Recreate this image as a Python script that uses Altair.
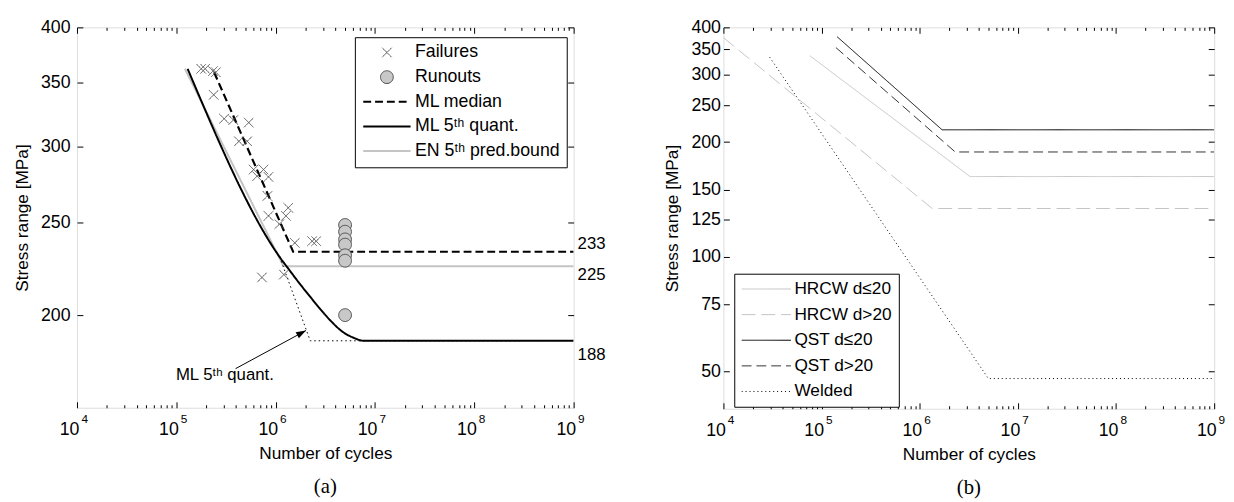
import altair as alt
import pandas as pd

FONT = "Liberation Sans"
SERIF = "Liberation Serif"

# ---------------- panel (a) data ----------------
SER_A = ["Failures", "Runouts", "ML median", "ML 5ᵗʰ quant.", "EN 5ᵗʰ pred.bound"]

FAIL_N = [1.78e5, 1.95e5, 2.34e5, 2.5e5, 2.38e5, 3.03e5, 3.75e5, 5.36e5, 4.27e5, 5.17e5,
          6.0e5, 7.55e5, 6.5e5, 8.47e5, 8.27e5, 8.47e5, 1.09e6, 1.34e6, 1.27e6, 1.56e6,
          2.33e6, 2.56e6, 7.28e5, 1.21e6]
FAIL_S = [362, 362, 360, 359, 340, 321, 320, 318, 304, 304,
          284, 284, 279.5, 279, 266.5, 254, 249, 259, 254, 238,
          239, 239, 219, 220.5]
RUN_N = [5.0e6, 5.0e6, 5.0e6, 5.0e6, 5.0e6, 5.0e6, 5.0e6]
RUN_S = [248.5, 244.5, 240, 237, 231, 228, 200]

MED_N = [2.4e5, 1.5e6, 1.0e9]
MED_S = [359, 233, 233]
Q5_N = [1.3e5, 1.15e6, 1.35e6, 1.7e6, 2.19e6, 2.8e6, 3.58e6, 4.6e6, 6.0e6, 7.8e6, 1.0e9]
Q5_S = [362, 228.5, 223.5, 216.5, 209.5, 203, 197.3, 192.5, 189.5, 188, 188]
EN_N = [1.22e5, 1.2e6, 1.0e9]
EN_S = [362, 225, 225]
Q5BI_N = [1.1e6, 2.23e6, 3.05e8]
Q5BI_S = [230, 188, 188]

LIMIT_N = 1.0e9
LIMIT_S = [233, 225, 188]
ARROW_N = [3.95e5, 2.02e6]
ARROW_S = [175.8, 192.7]
NOTE_N = [9.9e4]
NOTE_S = [173]
NOTE_TEXT = ["ML 5ᵗʰ quant."]

# ---------------- panel (b) data ----------------
SER_B = ["HRCW d≤20", "HRCW d>20", "QST d≤20", "QST d>20", "Welded"]
HRCW1_N = [7.6e4, 3.26e6, 1.0e9]
HRCW1_S = [337, 162.5, 162.5]
HRCW2_N = [1.0e4, 1.34e6, 1.0e9]
HRCW2_S = [376, 134, 134]
QST1_N = [1.44e5, 1.69e6, 1.0e9]
QST1_S = [378, 215.5, 215.5]
QST2_N = [1.40e5, 2.3e6, 1.0e9]
QST2_S = [354, 188.5, 188.5]
WELD_N = [2.96e4, 5.0e6, 1.0e9]
WELD_S = [334, 48, 48]

# ---------------- ticks ----------------
X_MAJOR = [1e4, 1e5, 1e6, 1e7, 1e8, 1e9]
X_MINOR = [m * 10 ** e for e in range(4, 9) for m in range(2, 10)]
Y_TICKS_A = [200, 250, 300, 350, 400]
Y_TICKS_B = [50, 75, 100, 125, 150, 200, 250, 300, 350, 400]

XS = alt.Scale(type="log", domain=[1e4, 1e9])
YS_A = alt.Scale(type="log", domain=[160, 400])
YS_B = alt.Scale(type="log", domain=[40, 400])


def axis(orient, **kw):
    base = dict(orient=orient, domain=False, grid=False, labels=False, ticks=False,
                tickSize=0, labelFlush=False, labelOverlap=False, title=None,
                tickColor="black", tickWidth=1, labelColor="black", labelFont=FONT,
                titleFont=FONT, titleColor="black", titleFontWeight="normal")
    base.update(kw)
    return alt.Axis(**base)


def frame_layers(df, ys, yticks, ylabpad, ytitlepad):
    """Invisible carrier layers that only hold axes (labels + inward ticks)."""
    specs = [
        (axis("bottom", values=X_MAJOR, labels=True, labelExpr="'10'", labelAlign="right",
              labelOffset=2, labelPadding=13, labelFontSize=18,
              title="Number of cycles", titleFontSize=17.5, titlePadding=7),
         axis("left", values=yticks, labels=True, labelPadding=ylabpad, labelFontSize=18,
              title="Stress range [MPa]", titleFontSize=17.5, titlePadding=ytitlepad)),
        (axis("bottom", values=X_MAJOR, labels=True,
              labelExpr="'' + round(log(datum.value) / LN10)", labelAlign="left",
              labelOffset=4, labelPadding=6, labelFontSize=12),
         axis("left", values=yticks, ticks=True, tickSize=6, offset=-6)),
        (axis("bottom", values=X_MAJOR, ticks=True, tickSize=6, offset=-6),
         axis("right", values=yticks, ticks=True, tickSize=6, offset=-6)),
        (axis("bottom", values=X_MINOR, ticks=True, tickSize=3, offset=-3), None),
        (axis("top", values=X_MAJOR, ticks=True, tickSize=6, offset=-6), None),
        (axis("top", values=X_MINOR, ticks=True, tickSize=3, offset=-3), None),
    ]
    out = []
    for xa, ya in specs:
        out.append(alt.Chart(df).mark_point(opacity=0).encode(
            x=alt.X("N:Q", scale=XS, axis=xa),
            y=alt.Y("S:Q", scale=ys, axis=ya),
        ))
    return out


# ================= panel (a) =================
pts_a = pd.DataFrame({
    "N": FAIL_N + RUN_N,
    "S": FAIL_S + RUN_S,
    "series": [SER_A[0]] * len(FAIL_N) + [SER_A[1]] * len(RUN_N),
})
lines_a = pd.DataFrame({
    "N": MED_N + EN_N,
    "S": MED_S + EN_S,
    "series": [SER_A[2]] * len(MED_N) + [SER_A[4]] * len(EN_N),
    "ord": list(range(len(MED_N))) + list(range(len(EN_N))),
})
q5_a = pd.DataFrame({"N": Q5_N, "S": Q5_S, "series": [SER_A[3]] * len(Q5_N),
                     "ord": list(range(len(Q5_N)))})
bi_a = pd.DataFrame({"N": Q5BI_N, "S": Q5BI_S})
arrow_a = pd.DataFrame({"N": ARROW_N, "S": ARROW_S})
note_a = pd.DataFrame({"N": NOTE_N, "S": NOTE_S, "t": NOTE_TEXT})
carrier_a = pd.DataFrame({"N": FAIL_N[:1], "S": FAIL_S[:1]})

legA = alt.Legend(title=None, orient="none", legendX=282, legendY=10, padding=7,
                  rowPadding=6, clipHeight=17, symbolSize=2304, labelOffset=3,
                  labelFont=FONT, labelFontSize=18, labelColor="black", labelLimit=400,
                  fillColor="white", strokeColor="black", symbolOpacity=1)
XPATH = "M-0.2,-0.2L0.2,0.2M-0.2,0.2L0.2,-0.2"
CPATH = "M0.27,0A0.27,0.27,0,1,1,-0.27,0A0.27,0.27,0,1,1,0.27,0Z"

strokeA = alt.Stroke("series:N", scale=alt.Scale(
    domain=SER_A, range=["#4d4d4d", "#4d4d4d", "black", "black", "#c4c4c4"]), legend=legA)
dashA = alt.StrokeDash("series:N", scale=alt.Scale(
    domain=SER_A, range=[[1, 0], [1, 0], [8, 4], [1, 0], [1, 0]]), legend=legA)
widthA = alt.StrokeWidth("series:N", scale=alt.Scale(
    type="ordinal", domain=SER_A, range=[1, 1, 2.2, 2, 2]), legend=legA)
shapeA = alt.Shape("series:N", scale=alt.Scale(
    domain=SER_A, range=[XPATH, CPATH, "stroke", "stroke", "stroke"]), legend=legA)
fillA = alt.Fill("series:N", scale=alt.Scale(
    domain=SER_A, range=["transparent", "#c8c8c8", "transparent", "transparent", "transparent"]),
    legend=legA)

xA = alt.X("N:Q", scale=XS, axis=None)
yA = alt.Y("S:Q", scale=YS_A, axis=None)

lines_layer_a = alt.Chart(lines_a).mark_line(clip=True).encode(
    x=xA, y=yA, stroke=strokeA, strokeDash=dashA, strokeWidth=widthA, order="ord:Q")
q5_layer_a = alt.Chart(q5_a).mark_line(clip=True, interpolate="monotone").encode(
    x=xA, y=yA, stroke=strokeA, strokeDash=dashA, strokeWidth=widthA, order="ord:Q")
bi_layer_a = alt.Chart(bi_a).mark_line(clip=True, color="black", strokeDash=[1.5, 3],
                                       strokeWidth=1).encode(x=xA, y=yA)
pts_layer_a = alt.Chart(pts_a).mark_point(size=2304, opacity=1).encode(
    x=xA, y=yA, stroke=strokeA, fill=fillA, shape=shapeA, strokeDash=dashA, strokeWidth=widthA)

limit_layers = []
for s, dy in zip(LIMIT_S, [-8, 9, 14]):
    df = pd.DataFrame({"N": [LIMIT_N], "S": [s], "t": [str(s)]})
    limit_layers.append(alt.Chart(df).mark_text(
        align="left", baseline="middle", dx=4, dy=dy, font=FONT, fontSize=17,
        color="black").encode(x=xA, y=yA, text="t:N"))

arrow_line = alt.Chart(arrow_a).mark_line(color="black", strokeWidth=1).encode(x=xA, y=yA)
arrow_head = alt.Chart(arrow_a.tail(1)).mark_point(
    shape="M0,0L-0.35,1L0.35,1Z", size=400, angle=62, filled=True, color="black",
    opacity=1).encode(x=xA, y=yA)
note_layer = alt.Chart(note_a).mark_text(
    align="left", baseline="middle", font=FONT, fontSize=17, color="black").encode(
    x=xA, y=yA, text="t:N")

panel_a = alt.layer(
    *frame_layers(carrier_a, YS_A, Y_TICKS_A, 7, 9),
    lines_layer_a, q5_layer_a, bi_layer_a, pts_layer_a, *limit_layers,
    arrow_line, arrow_head, note_layer,
).resolve_axis(x="independent", y="independent").properties(
    width=504, height=386,
    title=alt.TitleParams("(a)", orient="bottom", frame="group", anchor="middle",
                          offset=14, font=SERIF, fontSize=21, fontWeight="normal",
                          color="black"),
)

# ================= panel (b) =================
lines_b = pd.DataFrame({
    "N": HRCW1_N + HRCW2_N + QST1_N + QST2_N + WELD_N,
    "S": HRCW1_S + HRCW2_S + QST1_S + QST2_S + WELD_S,
    "series": [SER_B[0]] * len(HRCW1_N) + [SER_B[1]] * len(HRCW2_N) + [SER_B[2]] * len(QST1_N)
    + [SER_B[3]] * len(QST2_N) + [SER_B[4]] * len(WELD_N),
    "ord": list(range(len(HRCW1_N))) + list(range(len(HRCW2_N))) + list(range(len(QST1_N)))
    + list(range(len(QST2_N))) + list(range(len(WELD_N))),
})
carrier_b = pd.DataFrame({"N": QST1_N[:1], "S": QST1_S[:1]})

legB = alt.Legend(title=None, orient="none", legendX=11, legendY=250, padding=7,
                  rowPadding=8, clipHeight=17, symbolType="stroke", symbolSize=2500,
                  symbolStrokeWidth=1, labelOffset=3, labelFont=FONT, labelFontSize=17.5,
                  labelColor="black", labelLimit=400, fillColor="white",
                  strokeColor="black", symbolOpacity=1)
strokeB = alt.Stroke("series:N", scale=alt.Scale(
    domain=SER_B, range=["#c4c4c4", "#c4c4c4", "black", "#333333", "black"]), legend=legB)
dashB = alt.StrokeDash("series:N", scale=alt.Scale(
    domain=SER_B, range=[[1, 0], [14, 6], [1, 0], [10, 5], [1, 3]]), legend=legB)

xB = alt.X("N:Q", scale=XS, axis=None)
yB = alt.Y("S:Q", scale=YS_B, axis=None)
lines_layer_b = alt.Chart(lines_b).mark_line(clip=True, strokeWidth=1).encode(
    x=xB, y=yB, stroke=strokeB, strokeDash=dashB, order="ord:Q")

panel_b = alt.layer(
    *frame_layers(carrier_b, YS_B, Y_TICKS_B, 3, 10),
    lines_layer_b,
).resolve_axis(x="independent", y="independent").properties(
    width=498, height=387,
    title=alt.TitleParams("(b)", orient="bottom", frame="group", anchor="middle",
                          offset=14, font=SERIF, fontSize=21, fontWeight="normal",
                          color="black"),
)

IND = dict(stroke="independent", strokeDash="independent", strokeWidth="independent",
           shape="independent", fill="independent")
chart = alt.hconcat(panel_a, panel_b, spacing=57).resolve_scale(**IND).resolve_legend(
    **IND).properties(
    padding={"left": 5, "top": 6, "right": 0, "bottom": 0},
).configure_view(stroke="black", strokeWidth=1).configure(font=FONT)

chart.save("out.html", embed_options={"renderer": "svg", "actions": False})
